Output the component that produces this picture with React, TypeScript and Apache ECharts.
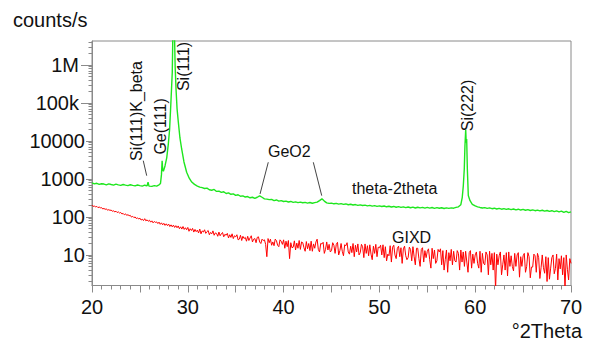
import React, { useEffect, useRef } from 'react';
import * as echarts from 'echarts';

// theta-2theta scan: [°2Theta, counts/s]
const theta2ThetaScan: [number, number][] = [
  [20, 790], [20.25, 740], [20.5, 770], [20.75, 720], [21, 750], [21.25, 735], [21.5, 700], [21.75, 745],
  [22, 715], [22.25, 690], [22.5, 730], [22.75, 700], [23, 680], [23.25, 715], [23.5, 690], [23.75, 670],
  [24, 705], [24.25, 680], [24.5, 660], [24.75, 695], [25, 670], [25.25, 650], [25.5, 685], [25.75, 660],
  [25.85, 820], [25.95, 650], [26.25, 640], [26.5, 670], [26.75, 650], [27, 700], [27.15, 760], [27.25, 1300],
  [27.32, 3000], [27.38, 1700], [27.45, 1600], [27.62, 2200], [27.8, 3600], [27.96, 8000], [28.1, 20000],
  [28.22, 85000], [28.38, 650000], [28.47, 20000000], [28.58, 15000000], [28.68, 900000], [28.77, 234000],
  [28.88, 70000], [29.01, 31600], [29.18, 12000], [29.36, 6150], [29.6, 2800], [29.88, 1500], [30.15, 1050],
  [30.41, 830], [30.7, 720], [31, 650], [31.25, 610], [31.5, 590], [31.75, 560], [32, 575], [32.25, 520],
  [32.5, 505], [32.75, 530], [33, 470], [33.25, 480], [33.5, 445], [33.75, 460], [34, 415], [34.25, 430],
  [34.5, 395], [34.75, 405], [35, 370], [35.25, 385], [35.5, 350], [35.75, 360], [36, 335], [36.25, 345],
  [36.5, 320], [36.75, 330], [37, 310], [37.25, 330], [37.5, 360], [37.75, 330], [38, 300], [38.25, 295],
  [38.5, 285], [38.75, 290], [39, 270], [39.25, 280], [39.5, 262], [39.75, 270], [40, 255], [40.25, 262],
  [40.5, 248], [40.75, 256], [41, 242], [41.25, 250], [41.5, 238], [41.75, 246], [42, 236], [42.25, 242],
  [42.5, 232], [42.75, 240], [43, 230], [43.25, 238], [43.5, 245], [43.75, 270], [44, 300], [44.25, 262],
  [44.5, 235], [44.75, 228], [45, 232], [45.25, 222], [45.5, 228], [45.75, 218], [46, 224], [46.25, 214],
  [46.5, 220], [46.75, 210], [47, 216], [47.25, 206], [47.5, 212], [47.75, 202], [48, 208], [48.25, 200],
  [48.5, 205], [48.75, 196], [49, 202], [49.25, 193], [49.5, 199], [49.75, 190], [50, 196], [50.25, 188],
  [50.5, 194], [50.75, 185], [51, 191], [51.25, 183], [51.5, 189], [51.75, 180], [52, 187], [52.25, 179],
  [52.5, 185], [52.75, 176], [53, 183], [53.25, 175], [53.5, 181], [53.75, 172], [54, 180], [54.25, 174],
  [54.5, 179], [54.75, 170], [55, 178], [55.25, 171], [55.5, 177], [55.75, 169], [56, 176], [56.25, 170],
  [56.5, 175], [56.75, 167], [57, 174], [57.25, 168], [57.5, 173], [57.75, 170], [58, 178], [58.25, 185],
  [58.5, 210], [58.65, 330], [58.76, 670], [58.86, 1830], [58.93, 7500], [59.01, 20000], [59.06, 9000],
  [59.11, 11300], [59.18, 1830], [59.28, 365], [59.46, 268], [59.7, 215], [60, 195], [60.25, 185],
  [60.5, 178], [60.75, 172], [61, 176], [61.25, 168], [61.5, 173], [61.75, 165], [62, 170], [62.25, 162],
  [62.5, 168], [62.75, 160], [63, 166], [63.25, 158], [63.5, 164], [63.75, 156], [64, 162], [64.25, 154],
  [64.5, 160], [64.75, 152], [65, 158], [65.25, 150], [65.5, 156], [65.75, 148], [66, 154], [66.25, 146],
  [66.5, 152], [66.75, 144], [67, 150], [67.25, 142], [67.5, 148], [67.75, 140], [68, 146], [68.25, 138],
  [68.5, 144], [68.75, 136], [69, 142], [69.25, 132], [69.5, 140], [69.75, 130], [70, 136],
];

// GIXD scan, sampled every 0.125 °2Theta starting at 20 (one row per degree)
const gixdStartAngle = 20;
const gixdStepAngle = 0.125;
const gixdCounts = [
  205, 189, 196, 182, 190, 176, 183, 174,
  176, 162, 168, 158, 164, 150, 156, 149,
  152, 141, 146, 135, 142, 131, 136, 127,
  131, 120, 124, 114, 121, 110, 115, 108,
  110, 99, 104, 96, 100, 91, 95, 88,
  93, 83, 87, 80, 90, 79, 84, 77,
  82, 73, 79, 70, 76, 72, 74, 67,
  73, 64, 70, 62, 68, 60, 66, 59,
  65, 56, 62, 55, 61, 53, 59, 52,
  58, 49, 55, 48, 56, 47, 52, 46,
  53, 42, 49, 44, 50, 40, 47, 41,
  45, 38, 48, 36, 43, 40, 46, 37,
  41, 44, 34, 39, 36, 43, 33, 38,
  37, 31, 40, 32, 36, 39, 30, 35,
  33, 37, 28, 34, 29, 36, 27, 32,
  30, 34, 25, 26, 33, 24, 31, 27,
  29, 23, 31, 24, 28, 32, 22, 26,
  27, 21, 29, 30, 22, 20, 26, 24,
  25, 19, 9, 27, 21, 26, 18, 22,
  17.5, 26, 24, 18, 16.5, 25, 23, 19,
  25, 15, 23, 16.5, 24, 8, 21, 15.5,
  16, 23.5, 13.5, 20.5, 15, 24, 14, 22,
  21, 15.5, 12.5, 22.5, 14.5, 20, 13, 23,
  12.5, 19.5, 15, 22, 26, 14, 12, 20,
  19.5, 21.5, 11, 14, 22, 13.5, 19, 12,
  13, 21, 18, 11, 19, 21.5, 10, 13,
  20, 12.5, 9.5, 18.5, 17.5, 21, 12, 10.5,
  17, 11.5, 20, 9, 18, 12, 19.5, 10,
  11.5, 19, 16.5, 8.5, 19.5, 11, 17.5, 9.5,
  18.5, 10.5, 7.5, 17, 11, 19, 9, 16,
  15.5, 18, 10, 18.5, 8.5, 16.5, 7, 10.5,
  9.5, 17.5, 6.5, 16, 18, 10, 8, 15,
  17, 9, 15.5, 6, 14.5, 17, 9.5, 7.5,
  8.5, 16, 14, 7, 16.5, 9, 5.5, 15,
  15, 8, 5, 14, 15.5, 6.5, 13, 8.5,
  12.5, 14.5, 7.5, 4.5, 15, 8, 13.5, 6,
  7, 14, 12, 14.5, 5.5, 13, 4, 7.5,
  13.5, 3.5, 11.5, 7, 14, 5.5, 12.5, 7,
  6.5, 13, 11, 4, 13.5, 6.5, 12, 5,
  12.5, 6.5, 3.5, 11.5, 13, 4.5, 10.5, 6,
  10, 12, 6, 4.5, 12.5, 3.5, 11, 6,
  5.5, 12, 10, 3, 12.5, 5.5, 11, 4,
  11.5, 1.2, 10.5, 5.5, 9.5, 12, 3, 5.5,
  10, 4, 11.5, 2.8, 12, 5, 9.5, 5,
  3.8, 11, 5, 10, 11.5, 2.6, 9, 5,
  9.5, 11, 3.5, 5, 11.5, 9, 2.5, 4.8,
  4.8, 10.5, 9.5, 3.5, 11, 8.5, 2.4, 4.6,
  10, 4.6, 3.3, 9, 2, 8.5, 2.3, 4.5,
  8.5, 10, 3.2, 4.4, 10.5, 2.2, 8, 4.3,
  9.5, 3, 8.5, 1.3, 10, 4.2, 2.2, 8,
  6,
];

const xTickLabels = [20, 30, 40, 50, 60, 70];
const yTickValues = [10, 100, 1000, 10000, 100000, 1000000];
const yTickLabels = ['10', '100', '1000', '10000', '100k', '1M'];
const yLongTickValues = [100000, 1000000];

// annotations (data coordinates)
const peakLabels = [
  { text: 'Si(111)K_beta', angle: 24.65, counts: 61500, vertical: true },
  { text: 'Ge(111)', angle: 27.2, counts: 24100, vertical: true },
  { text: 'Si(111)', angle: 29.6, counts: 915000, vertical: true },
  { text: 'Si(222)', angle: 59.2, counts: 85900, vertical: true },
  { text: 'GeO2', angle: 38.37, counts: 5140, vertical: false },
  { text: 'theta-2theta', angle: 47.14, counts: 546, vertical: false },
  { text: 'GIXD', angle: 51.32, counts: 28, vertical: false },
];
const leaderLines: [number, number][][] = [
  [[25.35, 3030], [25.71, 1220]],
  [[38.4, 2750], [37.54, 403]],
  [[43.1, 2750], [43.98, 364]],
];

const Y_MIN = 1.57;
const Y_MAX = 4.28e6;
const AXIS_COLOR = '#8a8a8a';
const FONT = '"Liberation Sans", Arial, sans-serif';

export default function App() {
  const ref = useRef<HTMLDivElement>(null);

  useEffect(() => {
    if (!ref.current) return;
    const chart = echarts.init(ref.current, null, { renderer: 'svg' });

    const gixdData = gixdCounts.map((c, i) => [gixdStartAngle + i * gixdStepAngle, c]);

    const minorY: number[] = [];
    for (let k = 0; k <= 6; k++) {
      for (let m = 2; m <= 9; m++) {
        const v = m * Math.pow(10, k);
        if (v > Y_MIN && v < Y_MAX) minorY.push(v);
      }
    }

    const labelFor = (v: number) => {
      for (let i = 0; i < yTickValues.length; i++) {
        if (Math.abs(v - yTickValues[i]) / yTickValues[i] < 1e-6) {
          const isLong = yLongTickValues.indexOf(yTickValues[i]) >= 0;
          return isLong ? '{w|' + yTickLabels[i] + '}' : yTickLabels[i];
        }
      }
      return '';
    };

    const axisTexts = [
      {
        type: 'text',
        x: 13,
        y: 20,
        style: { text: 'counts/s', fontSize: 20, fontFamily: FONT, fill: '#111', align: 'left', verticalAlign: 'middle' },
      },
      {
        type: 'text',
        x: 582,
        y: 331,
        style: { text: '°2Theta', fontSize: 20, fontFamily: FONT, fill: '#111', align: 'right', verticalAlign: 'middle' },
      },
    ];

    chart.setOption({
      animation: false,
      backgroundColor: '#fff',
      textStyle: { fontFamily: FONT },
      grid: {
        left: 92,
        right: 19,
        top: 41,
        bottom: 57.5,
        show: true,
        borderColor: AXIS_COLOR,
        borderWidth: 1,
        backgroundColor: 'transparent',
      },
      xAxis: [
        {
          type: 'value',
          min: 20,
          max: 70,
          interval: 5,
          axisLine: { show: true, lineStyle: { color: AXIS_COLOR, width: 1 } },
          axisTick: { show: true, length: 7, lineStyle: { color: AXIS_COLOR } },
          minorTick: { show: true, splitNumber: 5, length: 4, lineStyle: { color: AXIS_COLOR } },
          splitLine: { show: false },
          axisLabel: {
            margin: 11,
            fontSize: 20,
            color: '#111',
            fontFamily: FONT,
            formatter: (v: number) => (xTickLabels.indexOf(v) >= 0 ? String(v) : ''),
          },
        },
      ],
      yAxis: [
        {
          type: 'log',
          logBase: 10,
          min: Y_MIN,
          max: Y_MAX,
          axisLine: { show: true, lineStyle: { color: AXIS_COLOR, width: 1 } },
          axisTick: { show: true, length: 6, customValues: yTickValues, lineStyle: { color: AXIS_COLOR } },
          splitLine: { show: false },
          axisLabel: {
            customValues: yTickValues,
            margin: 7,
            fontSize: 20,
            color: '#111',
            fontFamily: FONT,
            formatter: (v: number) => labelFor(v),
            rich: {
              w: { fontSize: 20, fontFamily: FONT, color: '#111', padding: [0, 6, 0, 0] },
            },
          },
        },
        {
          type: 'log',
          logBase: 10,
          min: Y_MIN,
          max: Y_MAX,
          position: 'left',
          axisLine: { show: false },
          axisTick: { show: true, length: 3.5, customValues: minorY, lineStyle: { color: AXIS_COLOR } },
          splitLine: { show: false },
          axisLabel: { show: false },
        },
        {
          type: 'log',
          logBase: 10,
          min: Y_MIN,
          max: Y_MAX,
          position: 'left',
          axisLine: { show: false },
          axisTick: { show: true, length: 11, customValues: yLongTickValues, lineStyle: { color: AXIS_COLOR } },
          splitLine: { show: false },
          axisLabel: { show: false },
        },
      ],
      graphic: axisTexts,
      series: [
        {
          name: 'GIXD',
          type: 'line',
          data: gixdData,
          showSymbol: false,
          silent: true,
          clip: true,
          lineStyle: { color: '#ff0000', width: 1 },
          itemStyle: { color: '#ff0000' },
        },
        {
          name: 'theta-2theta',
          type: 'line',
          data: theta2ThetaScan,
          showSymbol: false,
          silent: true,
          clip: true,
          lineStyle: { color: '#1ee61e', width: 1.4 },
          itemStyle: { color: '#1ee61e' },
        },
      ],
    });

    const toPx = (a: number, c: number) =>
      chart.convertToPixel({ xAxisIndex: 0, yAxisIndex: 0 }, [a, c]) as number[];

    const extra: any[] = [];
    peakLabels.forEach((l) => {
      const [px, py] = toPx(l.angle, l.counts);
      extra.push({
        type: 'text',
        x: px,
        y: py,
        rotation: l.vertical ? Math.PI / 2 : 0,
        z: 100,
        style: {
          text: l.text,
          fontSize: 16,
          fontFamily: FONT,
          fill: '#111',
          align: l.vertical ? 'center' : 'left',
          verticalAlign: 'middle',
        },
      });
    });
    leaderLines.forEach((seg) => {
      const [x1, y1] = toPx(seg[0][0], seg[0][1]);
      const [x2, y2] = toPx(seg[1][0], seg[1][1]);
      extra.push({
        type: 'line',
        z: 100,
        shape: { x1, y1, x2, y2 },
        style: { stroke: '#444', lineWidth: 1 },
      });
    });

    chart.setOption({ graphic: [...axisTexts, ...extra] });

    return () => chart.dispose();
  }, []);

  return (
    <div
      ref={ref}
      style={{ position: 'fixed', left: 0, top: 0, width: 590, height: 343, background: '#fff' }}
    />
  );
}
